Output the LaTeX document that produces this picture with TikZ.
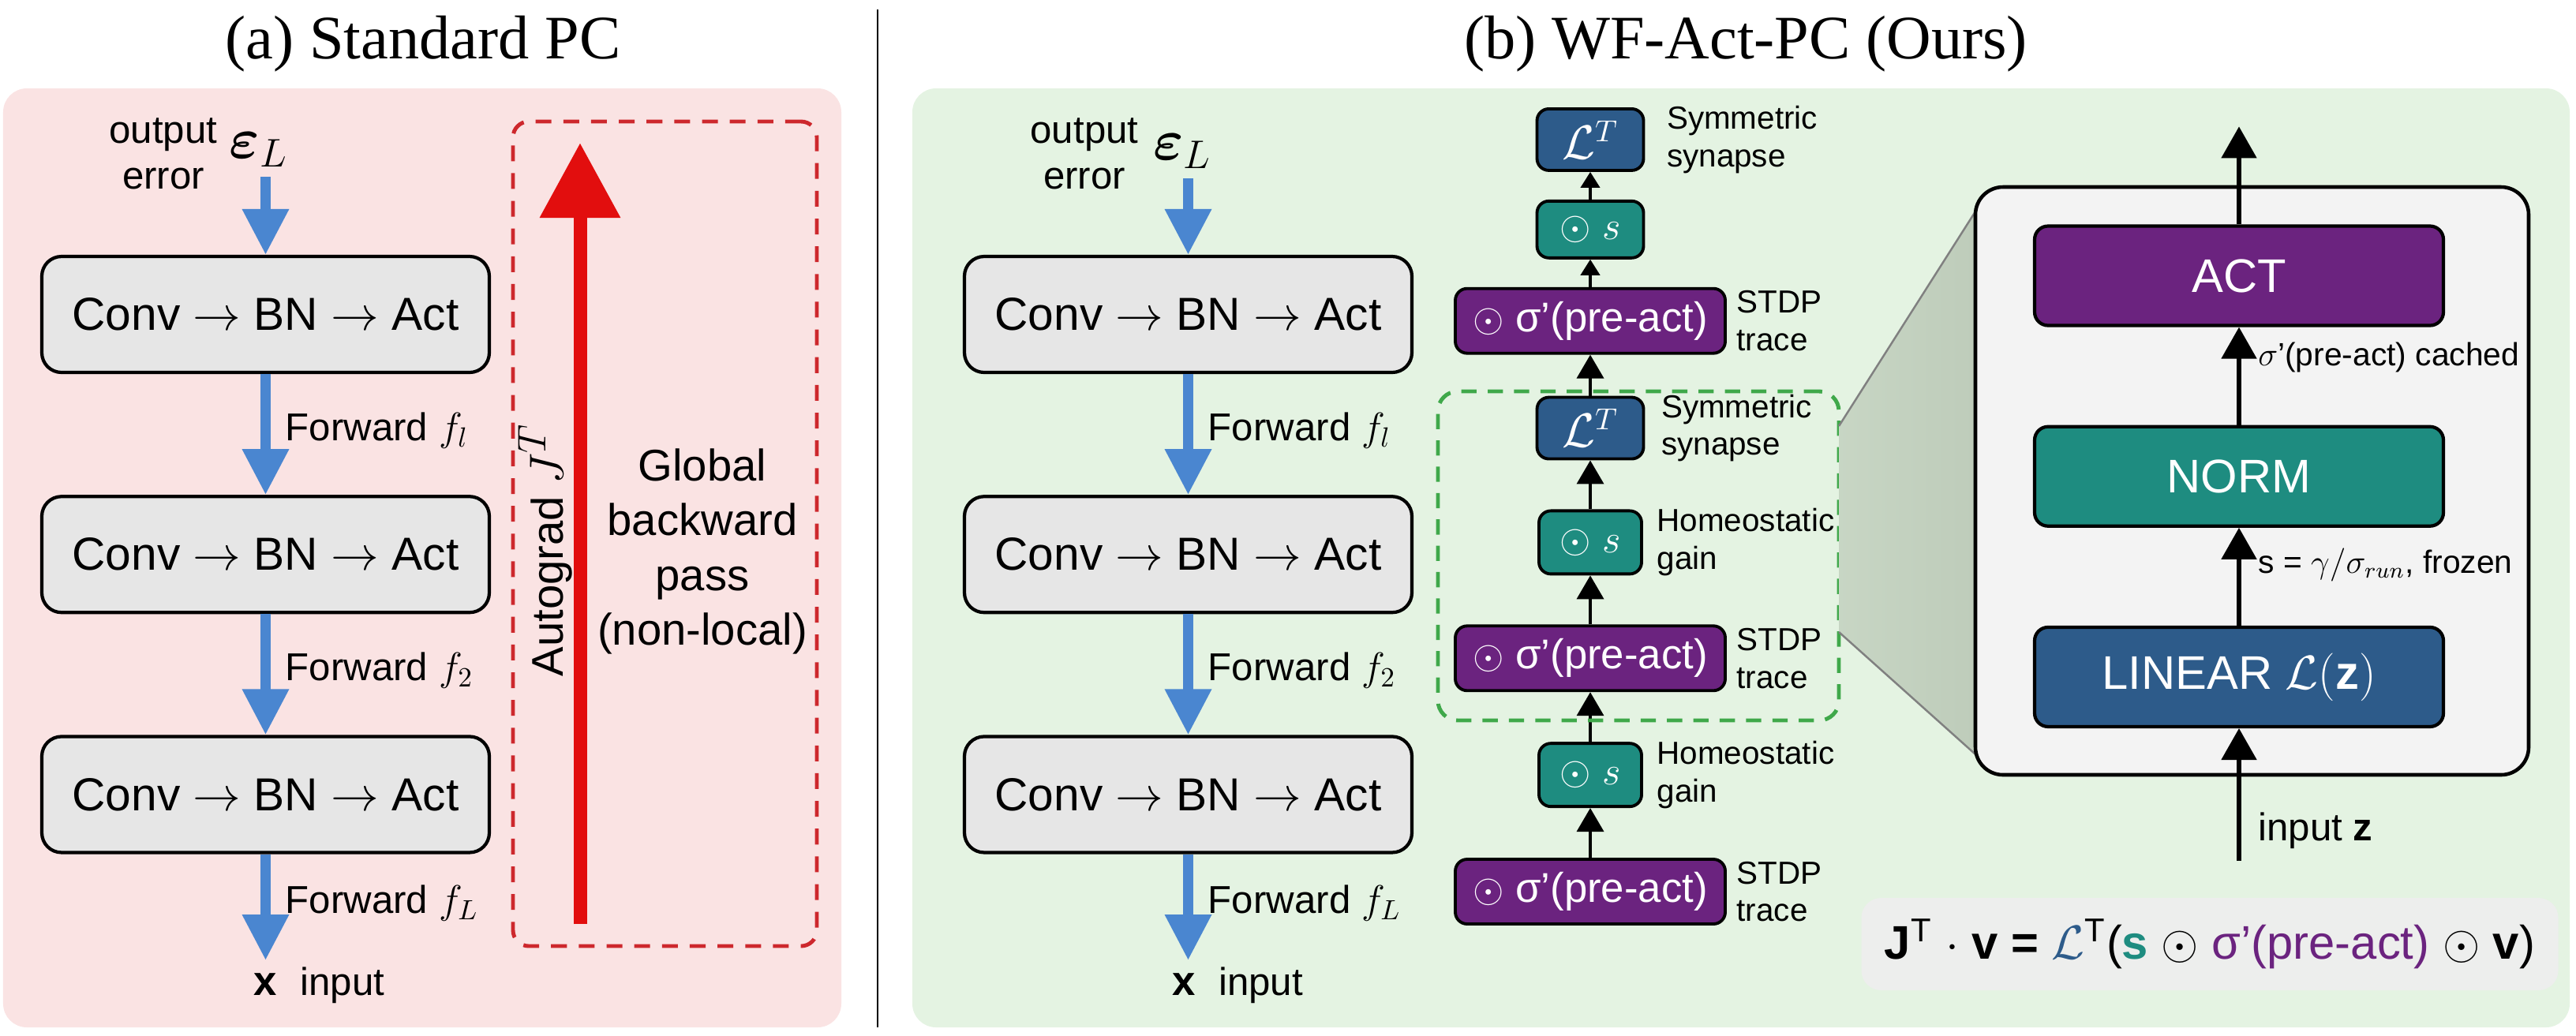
\documentclass[tikz,border=0pt]{standalone}
\usepackage{amsmath,amssymb}
\usepackage{fontspec}
\setmainfont{Liberation Sans}
\newfontfamily\titlefont{Liberation Serif}
\usetikzlibrary{arrows.meta,positioning,calc}

\definecolor{pinkbg}{RGB}{250,227,227}
\definecolor{greenbg}{RGB}{228,243,226}
\definecolor{boxgray}{RGB}{230,230,230}
\definecolor{fwdblue}{RGB}{74,134,208}
\definecolor{autored}{RGB}{226,14,14}
\definecolor{dashred}{RGB}{205,40,45}
\definecolor{linblue}{RGB}{45,91,138}
\definecolor{normteal}{RGB}{30,140,128}
\definecolor{actpurple}{RGB}{107,35,127}
\definecolor{dashgreen}{RGB}{63,168,74}
\definecolor{zoomgray}{RGB}{190,204,186}
\definecolor{panelgray}{RGB}{243,243,243}
\definecolor{eqgray}{RGB}{237,238,237}

\begin{document}
\begin{tikzpicture}[
    layer/.style={rectangle, rounded corners=2.5mm, draw, line width=1.2pt, fill=boxgray,
        minimum width=5.67cm, minimum height=1.47cm, font=\fontsize{16.7}{20}\selectfont},
    fwd/.style={-{Triangle[width=5.6mm,length=5.8mm]}, line width=1.3mm, draw=fwdblue},
    grad/.style={-{Triangle[width=9.8mm,length=9.5mm]}, line width=1.7mm, draw=autored},
    lbl/.style={font=\fontsize{14}{16}\selectfont, anchor=west},
    chip/.style={rectangle, rounded corners=1.5mm, draw, line width=1.1pt, text=white,
        minimum height=0.8cm, inner sep=1pt, font=\fontsize{15}{18}\selectfont},
    note/.style={font=\fontsize{11.5}{13.6}\selectfont, align=left, inner sep=0pt},
    up/.style={-{Triangle[width=3.4mm,length=3mm]}, line width=1.1pt},
    upsmall/.style={-{Triangle[width=2.4mm,length=2mm]}, line width=1.1pt},
    block/.style={rectangle, rounded corners=1.7mm, draw, line width=1.2pt, text=white,
        minimum width=5.18cm, minimum height=1.26cm, font=\fontsize{17}{20}\selectfont},
    bigup/.style={-{Triangle[width=4.4mm,length=4mm]}, line width=1.5pt},
    side/.style={font=\fontsize{11.6}{14}\selectfont, anchor=west}
]
\useasboundingbox (0,0) rectangle (32.64,-13.12);

\fill[pinkbg, rounded corners=3mm] (0.04,-1.12) rectangle (10.66,-13.02);
\fill[greenbg, rounded corners=3mm] (11.56,-1.12) rectangle (32.56,-13.02);
\draw[line width=0.6pt] (11.12,-0.12) -- (11.12,-13.02);
\node[font=\titlefont\fontsize{22.3}{26}\selectfont] (titleA) at (5.36,-0.56) {(a) Standard PC};
\node[font=\titlefont\fontsize{22.3}{26}\selectfont] (titleB) at (22.12,-0.56) {(b) WF-Act-PC (Ours)};

\node[layer] (convA1) at (3.365,-3.985) {Conv $\rightarrow$ BN $\rightarrow$ Act};
\node[layer, below=1.53cm of convA1] (convA2) {Conv $\rightarrow$ BN $\rightarrow$ Act};
\node[layer, below=1.53cm of convA2] (convA3) {Conv $\rightarrow$ BN $\rightarrow$ Act};
\node[font=\fontsize{22}{26}\selectfont] (errA) at (3.28,-1.90) {$\boldsymbol{\varepsilon}_L$};
\node[font=\fontsize{14}{16.5}\selectfont, align=center] (outA) at (2.07,-1.95) {output\\error};
\coordinate (xinA) at (3.365,-12.17);
\node[font=\fontsize{15}{18}\selectfont, inner sep=0pt] (xA) at (3.365,-12.48) {\textbf{x}};
\node[font=\fontsize{14}{16}\selectfont, inner sep=0pt, base right=0.28cm of xA] (inA) {input};

\draw[fwd] (errA.south -| convA1) -- (convA1.north);
\draw[fwd] (convA1) -- (convA2);
\draw[fwd] (convA2) -- (convA3);
\draw[fwd] (convA3) -- (xinA);
\node[lbl] at ($(convA1.south)!0.5!(convA2.north)+(0.13,0.05)$) {Forward {\Large$f_l$}};
\node[lbl] at ($(convA2.south)!0.5!(convA3.north)+(0.13,0.05)$) {Forward {\Large$f_2$}};
\node[lbl] at ($(convA3.south)!0.5!(xinA)+(0.13,0.05)$) {Forward {\Large$f_L$}};

\node[draw=dashred, line width=1.4pt, dash pattern=on 5.7pt off 4.3pt, rounded corners=2mm,
    minimum width=3.85cm, minimum height=10.45cm] (globalbox) at (8.425,-6.765) {};
\coordinate (gradlo) at (7.35,-11.71);
\coordinate (gradhi) at (7.35,-1.81);
\draw[grad] (gradlo) -- (gradhi);
\node[rotate=90, font=\fontsize{16}{19}\selectfont] (autoA) at (6.91,-6.97) {Autograd {\fontsize{19}{22}\selectfont$J^T$}};
\node[font=\fontsize{16}{19.8}\selectfont, align=center] (globalA) at (8.90,-6.99) {Global\\backward\\pass\\(non-local)};

\node[layer] (convB1) at (15.055,-3.985) {Conv $\rightarrow$ BN $\rightarrow$ Act};
\node[layer, below=1.53cm of convB1] (convB2) {Conv $\rightarrow$ BN $\rightarrow$ Act};
\node[layer, below=1.53cm of convB2] (convB3) {Conv $\rightarrow$ BN $\rightarrow$ Act};
\node[font=\fontsize{22}{26}\selectfont] (errB) at (14.98,-1.92) {$\boldsymbol{\varepsilon}_L$};
\node[font=\fontsize{14}{16.5}\selectfont, align=center] (outB) at (13.74,-1.95) {output\\error};
\coordinate (xinB) at (15.055,-12.17);
\node[font=\fontsize{15}{18}\selectfont, inner sep=0pt] (xB) at (15.0,-12.48) {\textbf{x}};
\node[font=\fontsize{14}{16}\selectfont, inner sep=0pt, base right=0.28cm of xB] (inB) {input};

\draw[fwd] (errB.south -| convB1) -- (convB1.north);
\draw[fwd] (convB1) -- (convB2);
\draw[fwd] (convB2) -- (convB3);
\draw[fwd] (convB3) -- (xinB);
\node[lbl] at ($(convB1.south)!0.5!(convB2.north)+(0.13,0.05)$) {Forward {\Large$f_l$}};
\node[lbl] at ($(convB2.south)!0.5!(convB3.north)+(0.13,0.05)$) {Forward {\Large$f_2$}};
\node[lbl] at ($(convB3.south)!0.5!(xinB)+(0.13,0.05)$) {Forward {\Large$f_L$}};

\node[chip, fill=actpurple, minimum width=3.42cm, minimum height=0.82cm] (trace3) at (20.15,-11.30) {$\odot$ σ’(pre-act)};
\node[chip, fill=normteal, minimum width=1.30cm, above=0.63cm of trace3] (gain3) {$\odot\ s$};
\node[chip, fill=actpurple, minimum width=3.42cm, minimum height=0.82cm, above=0.63cm of gain3] (trace2) {$\odot$ σ’(pre-act)};
\node[chip, fill=normteal, minimum width=1.30cm, above=0.62cm of trace2] (gain2) {$\odot\ s$};
\node[chip, fill=linblue, minimum width=1.35cm, minimum height=0.78cm, above=0.62cm of gain2,
    font=\fontsize{16}{19}\selectfont] (sym2) {$\mathcal{L}^T$};
\node[chip, fill=actpurple, minimum width=3.42cm, minimum height=0.82cm, above=0.52cm of sym2] (trace1) {$\odot$ σ’(pre-act)};
\node[chip, fill=normteal, minimum width=1.35cm, minimum height=0.72cm, above=0.35cm of trace1] (gain1) {$\odot\ s$};
\node[chip, fill=linblue, minimum width=1.35cm, minimum height=0.78cm, above=0.35cm of gain1,
    font=\fontsize{16}{19}\selectfont] (sym1) {$\mathcal{L}^T$};

\draw[up] (trace3) -- (gain3);
\draw[up] (gain3) -- (trace2);
\draw[up] (trace2) -- (gain2);
\draw[up] (gain2) -- (sym2);
\draw[up] (sym2) -- (trace1);
\draw[upsmall] (trace1) -- (gain1);
\draw[upsmall] (gain1) -- (sym1);

\node[note, right=0.27cm of sym1] (symlbl1) {Symmetric\\synapse};
\node[note, right=0.12cm of trace1] (stdplbl1) {STDP\\trace};
\node[note, right=0.2cm of sym2] (symlbl2) {Symmetric\\synapse};
\node[note, right=0.17cm of gain2] (gainlbl2) {Homeostatic\\gain};
\node[note, right=0.12cm of trace2] (stdplbl2) {STDP\\trace};
\node[note, right=0.17cm of gain3] (gainlbl3) {Homeostatic\\gain};
\node[note, right=0.12cm of trace3] (stdplbl3) {STDP\\trace};

\node[draw=dashgreen, line width=1.4pt, dash pattern=on 5.5pt off 4pt, rounded corners=2.5mm,
    minimum width=5.08cm, minimum height=4.17cm] (zoomsrc) at (20.76,-7.045) {};

\shade[left color=zoomgray!75!greenbg, right color=zoomgray] (23.30,-5.40) -- (25.03,-2.68) -- (25.03,-9.56) -- (23.30,-8.01) -- cycle;
\draw[gray, line width=0.7pt] (23.30,-5.40) -- (25.03,-2.68) (23.30,-8.01) -- (25.03,-9.56);

\node[draw, line width=1.3pt, fill=panelgray, rounded corners=3.5mm,
    minimum width=7.01cm, minimum height=7.45cm] (detail) at (28.535,-6.095) {};
\node[block, fill=actpurple] (act) at (28.37,-3.495) {ACT};
\node[block, fill=normteal, below=1.24cm of act] (norm) {NORM};
\node[block, fill=linblue, below=1.24cm of norm] (linear) {LINEAR $\mathcal{L}(\mathbf{z})$};
\coordinate (actout) at ($(act.north)+(0,1.24)$);
\coordinate (zin) at ($(linear.south)+(0,-1.68)$);

\draw[bigup] (act) -- (actout);
\draw[bigup] (norm) -- node[side, right=1mm, pos=0.69] {$\sigma$’(pre-act) cached} (act);
\draw[bigup] (linear) -- node[side, right=1mm, pos=0.62] {s = $\gamma/\sigma_{run}$, frozen} (norm);
\draw[bigup] (zin) -- node[side, right=1mm, pos=0.23, font=\fontsize{14}{16}\selectfont] {input \textbf{z}} (linear);

\node[fill=eqgray, rounded corners=2.5mm, minimum width=8.83cm, minimum height=1.17cm,
    font=\fontsize{17}{20}\selectfont] (jvp) at (28.00,-11.965)
    {\textbf{J}\textsuperscript{T} $\cdot$ \textbf{v} \textbf{=} \textcolor{linblue}{$\mathcal{L}$}\textsuperscript{T}(\textcolor{normteal}{\textbf{s}} $\odot$ \textcolor{actpurple}{σ’(pre-act)} $\odot$ \textbf{v})};

\end{tikzpicture}
\end{document}
